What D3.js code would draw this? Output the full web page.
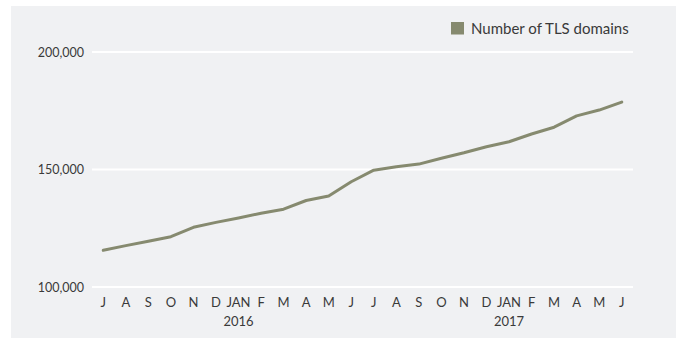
<!DOCTYPE html>
<html>
<head>
<meta charset="utf-8">
<script src="https://cdn.jsdelivr.net/npm/d3@7"></script>
<style>
  html, body { margin: 0; padding: 0; background: #ffffff; }
  svg { display: block; }
  text { font-family: Lato, "Open Sans", sans-serif; fill: #3a3a3a; }
</style>
</head>
<body>
<svg id="chart" width="676" height="339"></svg>
<script>
// Monthly count of TLS domains, July 2015 – June 2017
const months = ["J","A","S","O","N","D","JAN","F","M","A","M","J",
                "J","A","S","O","N","D","JAN","F","M","A","M","J"];
const tlsDomains = [115600, 117600, 119500, 121400, 125400, 127500,
                    129400, 131400, 133100, 136800, 138700, 144800,
                    149700, 151200, 152300, 154800, 157100, 159700,
                    161800, 165100, 168000, 172800, 175300, 178700];
const yearLabels = [{ index: 6, label: "2016" }, { index: 18, label: "2017" }];
const yTicks = [100000, 150000, 200000];
const seriesName = "Number of TLS domains";

const svg = d3.select("#chart");
const lineColor = "#868a6f";

// panel background
svg.append("rect")
  .attr("x", 11).attr("y", 6)
  .attr("width", 665).attr("height", 332)
  .attr("fill", "#f0f1f3");

const idx = d3.range(months.length);
const x = d3.scaleBand().domain(idx).range([92, 633]);
const y = d3.scaleLinear().domain([100000, 200000]).range([287, 52]);

// horizontal gridlines
svg.append("g")
  .selectAll("line")
  .data(yTicks)
  .join("line")
  .attr("x1", 92).attr("x2", 633)
  .attr("y1", d => y(d)).attr("y2", d => y(d))
  .attr("stroke", "#ffffff")
  .attr("stroke-width", 2);

// y axis labels
const fmt = d3.format(",");
svg.append("g")
  .selectAll("text")
  .data(yTicks)
  .join("text")
  .attr("x", 84)
  .attr("y", d => y(d) + 4.5)
  .attr("text-anchor", "end")
  .attr("font-size", 12.5)
  .text(d => fmt(d));

// month labels
svg.append("g")
  .selectAll("text")
  .data(idx)
  .join("text")
  .attr("x", i => x(i) + x.bandwidth() / 2)
  .attr("y", 307)
  .attr("text-anchor", "middle")
  .attr("font-size", 13)
  .text(i => months[i]);

// year labels
svg.append("g")
  .selectAll("text")
  .data(yearLabels)
  .join("text")
  .attr("x", d => x(d.index) + x.bandwidth() / 2)
  .attr("y", 326)
  .attr("text-anchor", "middle")
  .attr("font-size", 13)
  .text(d => d.label);

// data line
const line = d3.line()
  .x((d, i) => x(i) + x.bandwidth() / 2)
  .y(d => y(d));

svg.append("path")
  .datum(tlsDomains)
  .attr("d", line)
  .attr("fill", "none")
  .attr("stroke", lineColor)
  .attr("stroke-width", 3)
  .attr("stroke-linejoin", "round")
  .attr("stroke-linecap", "round");

// legend
const legend = svg.append("g");
legend.append("rect")
  .attr("x", 451).attr("y", 22)
  .attr("width", 13).attr("height", 12.5)
  .attr("fill", lineColor);
legend.append("text")
  .attr("x", 471).attr("y", 34)
  .attr("font-size", 15)
  .text(seriesName);
</script>
</body>
</html>
